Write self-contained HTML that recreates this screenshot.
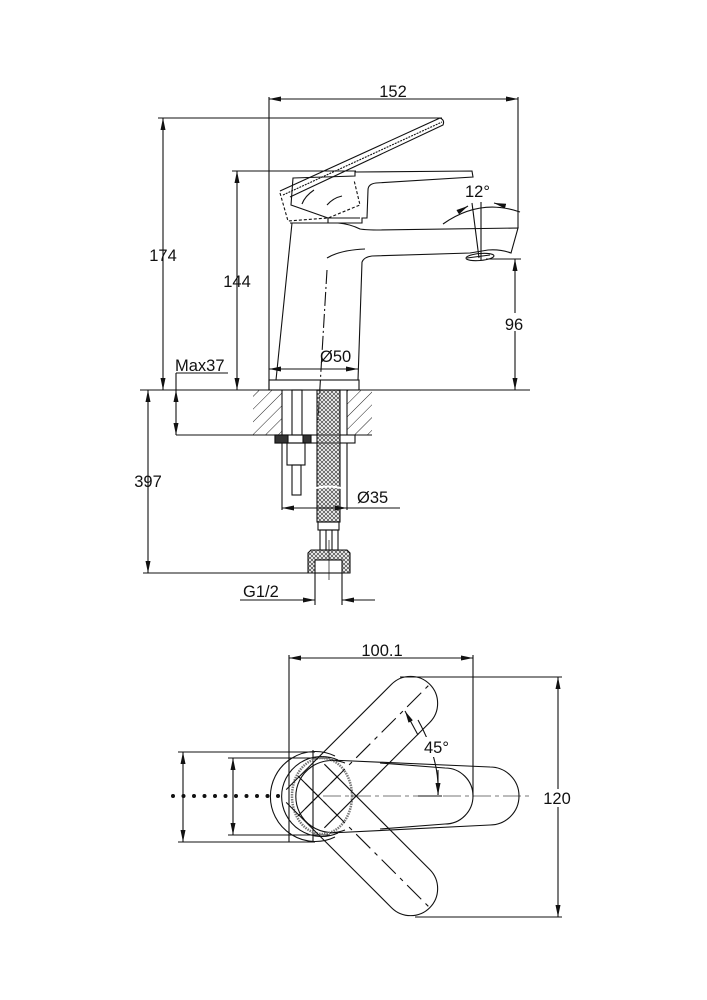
<!DOCTYPE html>
<html><head><meta charset="utf-8"><style>
html,body{margin:0;padding:0;background:#fff}
svg{display:block}
text{font-family:"Liberation Sans",sans-serif;font-size:16.5px;fill:#111}
</style></head><body>
<svg width="707" height="1000" viewBox="0 0 707 1000" xmlns="http://www.w3.org/2000/svg">
<defs>
<marker id="a" viewBox="0 0 12 6" refX="12" refY="3" markerWidth="12" markerHeight="6" orient="auto-start-reverse" markerUnits="userSpaceOnUse"><path d="M0,0.5 L12,3 L0,5.5z" fill="#111"/></marker>
<pattern id="hh" width="4" height="4" patternUnits="userSpaceOnUse"><path d="M0,0 L4,4 M4,0 L0,4" stroke="#555" stroke-width="0.8"/></pattern>
<pattern id="hatch" width="9" height="9" patternUnits="userSpaceOnUse" patternTransform="rotate(45)"><line x1="0" y1="0" x2="0" y2="9" stroke="#222" stroke-width="1"/></pattern>
</defs>
<g fill="none" stroke="#111" stroke-width="1.1">
<line x1="269" y1="97" x2="269" y2="390"/><line x1="518" y1="97" x2="518" y2="228"/>
<line x1="269" y1="99" x2="518" y2="99" marker-start="url(#a)" marker-end="url(#a)"/>
<line x1="158" y1="118" x2="442" y2="118"/>
<line x1="163" y1="118" x2="163" y2="390" marker-start="url(#a)" marker-end="url(#a)"/>
<line x1="232" y1="171" x2="356" y2="171"/>
<line x1="237" y1="171" x2="237" y2="390" marker-start="url(#a)" marker-end="url(#a)"/>
<line x1="140" y1="390" x2="530" y2="390"/>
<line x1="176" y1="373" x2="228" y2="373"/>
<line x1="176" y1="373" x2="176" y2="390"/>
<line x1="176" y1="390" x2="176" y2="435" marker-start="url(#a)" marker-end="url(#a)"/>
<line x1="176" y1="435" x2="253" y2="435"/>
<line x1="486" y1="259" x2="521" y2="259"/>
<line x1="515" y1="259" x2="515" y2="390" marker-start="url(#a)" marker-end="url(#a)"/>
<line x1="269" y1="369" x2="358" y2="369" marker-start="url(#a)" marker-end="url(#a)"/>
<rect x="269" y="380" width="90" height="10"/>
<path d="M292,223 L276,380 M362,262 L358,380"/>
<path d="M290,223 L338,223 Q350,224 360,229 Q366,230 380,230 L518,228 L511,253 Q500,249 488,250 L470,253 L372,256 Q364,257 362,262"/>
<path d="M327,258 Q340,250 365,249"/>
<ellipse cx="480" cy="257" rx="14" ry="3.5" transform="rotate(-5 480 257)"/>
<path d="M467,258 L490,255"/>
<path d="M293,178 L355,176 L355,172 L472,171 L473,177 L376,183 Q368,184 368,190 L367,218 L362,218 L362,223 L328,223 L328,218 L291,205 Z"/>
<path d="M328,218 L360,218"/>
<path d="M280,191 L440,118 Q445,120 443,125 L290,197" />
<path d="M283,195 L442,122" stroke-dasharray="2,1"/>
<path d="M280,193 L288,221 L328,218 L360,205 L354,180" stroke-dasharray="3,2"/>
<path d="M314,190 Q305,196 302,204 M342,196 Q333,198 327,205"/>
<path d="M327,270 L318,420" stroke-dasharray="14,3,2,3"/>
<path d="M443,224 Q480,198 520,212"/>
<line x1="481" y1="202" x2="481" y2="260"/>
<line x1="472" y1="203" x2="479" y2="258"/>
<path d="M458,212 L468,206" marker-end="url(#a)"/>
<path d="M505,206 L494,203" marker-end="url(#a)"/>
<rect x="253" y="390" width="29" height="45" fill="url(#hatch)" stroke="none"/>
<rect x="347" y="390" width="25" height="45" fill="url(#hatch)" stroke="none"/>
<line x1="282" y1="390" x2="282" y2="435"/><line x1="347" y1="390" x2="347" y2="435"/>
<line x1="253" y1="435" x2="282" y2="435"/><line x1="347" y1="435" x2="372" y2="435"/>
<rect x="275" y="435" width="80" height="8"/>
<rect x="275" y="435" width="13" height="8" fill="#333"/><rect x="303" y="435" width="8" height="8" fill="#333"/>
<rect x="292" y="390" width="10" height="45"/>
<rect x="287" y="443" width="18" height="22"/>
<rect x="292" y="465" width="9" height="30"/>
<rect x="317" y="390" width="23" height="132" fill="url(#hh)"/>
<path d="M316,488 Q328,485 341,488" stroke="#fff" stroke-width="2"/>
<rect x="318" y="522" width="21" height="8"/>
<rect x="320" y="530" width="18" height="20"/>
<line x1="326" y1="530" x2="326" y2="550"/><line x1="332" y1="530" x2="332" y2="550"/>
<path d="M308,553 L311,550 L347,550 L350,553 L350,573 L308,573 Z" fill="url(#hh)"/>
<rect x="315" y="560" width="27" height="13" fill="#fff"/>
<line x1="329" y1="540" x2="329" y2="580" stroke-width="0.7"/>
<line x1="282" y1="443" x2="282" y2="510"/><line x1="347" y1="443" x2="347" y2="510"/>
<line x1="282" y1="508" x2="347" y2="508" marker-start="url(#a)" marker-end="url(#a)"/>
<line x1="347" y1="508" x2="400" y2="508"/>
<line x1="148" y1="390" x2="148" y2="573" marker-start="url(#a)" marker-end="url(#a)"/>
<line x1="143" y1="573" x2="313" y2="573"/>
<line x1="315" y1="573" x2="315" y2="605"/><line x1="342" y1="573" x2="342" y2="605"/>
<line x1="240" y1="600" x2="315" y2="600" marker-end="url(#a)"/>
<line x1="375" y1="600" x2="342" y2="600" marker-end="url(#a)"/>

<line x1="289" y1="655" x2="289" y2="842"/><line x1="473" y1="655" x2="473" y2="797"/>
<line x1="289" y1="658" x2="473" y2="658" marker-start="url(#a)" marker-end="url(#a)"/>
<line x1="400" y1="677" x2="562" y2="677"/><line x1="415" y1="917" x2="562" y2="917"/>
<line x1="558" y1="677" x2="558" y2="917" marker-start="url(#a)" marker-end="url(#a)"/>
<line x1="178" y1="752" x2="315" y2="752"/><line x1="178" y1="842" x2="315" y2="842"/>
<line x1="183" y1="752" x2="183" y2="842" marker-start="url(#a)" marker-end="url(#a)"/>
<line x1="228" y1="758" x2="330" y2="758"/><line x1="228" y1="835" x2="330" y2="835"/>
<line x1="233" y1="758" x2="233" y2="835" marker-start="url(#a)" marker-end="url(#a)"/>
<line x1="323" y1="796" x2="532" y2="796" stroke="#777" stroke-dasharray="18,4,4,4"/>
<line x1="173" y1="796" x2="283" y2="796" stroke="#111" stroke-width="4" stroke-linecap="round" stroke-dasharray="0,10.5"/>
<line x1="313" y1="750" x2="313" y2="842"/>
<path d="M335,756 A45,45 0 1 0 335,837"/>
<path d="M338,760 A40,40 0 1 0 338,833"/>
<path d="M345,763 A36,36 0 1 0 345,830"/>
<ellipse cx="322" cy="796" rx="30" ry="38" stroke="#777" stroke-width="2.5" stroke-dasharray="1.5,1"/>
<path d="M330,760 L490,767 A29,29 0 0 1 490,825 L330,833"/>
<path d="M380,763 L445,768 A28,28 0 0 1 445,824 L380,829"/>
<g transform="rotate(-45 318 796)">
<path d="M300,769 L449,769 A27,27 0 0 1 449,823 L300,823"/>
<line x1="300" y1="796" x2="480" y2="796" stroke-dasharray="20,6,4,6"/>
</g>
<g transform="rotate(45 318 796)">
<path d="M300,769 L449,769 A27,27 0 0 1 449,823 L300,823"/>
<line x1="300" y1="796" x2="480" y2="796" stroke-dasharray="20,6,4,6"/>
</g>
<path d="M298,776 L338,816 M298,816 L338,776"/>
<path d="M418,720 Q440,760 438,795"/>
<line x1="418" y1="735" x2="405" y2="711" marker-end="url(#a)"/>
<line x1="438" y1="770" x2="438" y2="795" marker-end="url(#a)"/>
<line x1="418" y1="796" x2="442" y2="796"/>
</g>
<rect x="500" y="313" width="28" height="18" fill="#fff"/>
<rect x="538" y="789" width="38" height="18" fill="#fff"/>
<rect x="420" y="737" width="34" height="20" fill="#fff"/>
<text x="393" y="97" text-anchor="middle">152</text>
<text x="163" y="261" text-anchor="middle">174</text>
<text x="237" y="287" text-anchor="middle">144</text>
<text x="175" y="371">Max37</text>
<text x="514" y="330" text-anchor="middle">96</text>
<text x="320" y="362">Ø50</text>
<text x="465" y="197">12°</text>
<text x="148" y="487" text-anchor="middle">397</text>
<text x="357" y="503">Ø35</text>
<text x="243" y="597">G1/2</text>
<text x="382" y="656" text-anchor="middle">100.1</text>
<text x="424" y="753">45°</text>
<text x="557" y="804" text-anchor="middle">120</text>
</svg>
</body></html>
